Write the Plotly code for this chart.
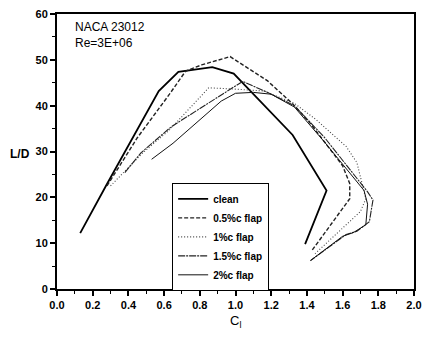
import plotly.graph_objects as go

names = ["clean", "0.5%c flap", "1%c flap", "1.5%c flap", "2%c flap"]

cl_clean = [0.13, 0.28, 0.57, 0.68, 0.87, 0.99, 1.32, 1.51, 1.39]
ld_clean = [12.2, 22.9, 43.2, 47.4, 48.4, 47.0, 33.6, 21.5, 9.8]

cl_05 = [0.28, 0.45, 0.63, 0.72, 0.81, 0.97, 1.18, 1.32, 1.42, 1.60, 1.64, 1.64, 1.43]
ld_05 = [22.5, 33.0, 42.5, 47.5, 48.9, 50.7, 45.4, 40.4, 36.1, 26.9, 23.0, 19.7, 8.5]

cl_1 = [0.30, 0.48, 0.63, 0.85, 1.00, 1.16, 1.33, 1.45, 1.62, 1.68, 1.73, 1.70, 1.44]
ld_1 = [22.5, 29.7, 34.7, 43.9, 43.6, 43.2, 40.5, 37.0, 31.1, 27.6, 19.7, 16.9, 7.5]

cl_15 = [0.38, 0.47, 0.64, 1.04, 1.18, 1.33, 1.50, 1.74, 1.77, 1.75, 1.68, 1.62, 1.42]
ld_15 = [25.4, 29.7, 35.4, 45.3, 42.9, 40.0, 33.0, 21.2, 19.4, 14.7, 12.6, 11.9, 6.2]

cl_2 = [0.53, 0.65, 0.92, 1.00, 1.10, 1.20, 1.33, 1.50, 1.72, 1.74, 1.73, 1.66, 1.60, 1.42]
ld_2 = [28.3, 31.8, 41.0, 42.7, 42.9, 42.5, 39.7, 32.0, 21.5, 18.5, 14.0, 12.3, 11.5, 6.2]

x_ticks = [0.0, 0.2, 0.4, 0.6, 0.8, 1.0, 1.2, 1.4, 1.6, 1.8, 2.0]
x_ticktext = ["0.0", "0.2", "0.4", "0.6", "0.8", "1.0", "1.2", "1.4", "1.6", "1.8", "2.0"]
y_ticks = [0, 10, 20, 30, 40, 50, 60]

series = [
    (cl_clean, ld_clean, dict(color="black", width=1.8, dash="solid")),
    (cl_05, ld_05, dict(color="#222", width=1.4, dash="4px,2px")),
    (cl_1, ld_1, dict(color="#444", width=1.1, dash="1px,2px")),
    (cl_15, ld_15, dict(color="#222", width=1.1, dash="7px,1px,2px,1px")),
    (cl_2, ld_2, dict(color="#111", width=1.0, dash="solid")),
]

fig = go.Figure()
for name, (xs, ys, ln) in zip(names, series):
    fig.add_trace(go.Scatter(x=xs, y=ys, mode="lines", name=name, line=ln))

FONT = "Liberation Sans, Arial, sans-serif"

fig.update_layout(
    width=430, height=337,
    margin=dict(l=57, r=12, t=8, b=48),
    paper_bgcolor="white", plot_bgcolor="white",
    showlegend=True,
    legend=dict(
        x=0.322, y=0.385, xanchor="left", yanchor="top",
        bordercolor="black", borderwidth=1.2, bgcolor="white",
        font=dict(family=FONT, size=10, color="black", weight="bold"),
        tracegroupgap=0, itemwidth=30,
    ),
    xaxis=dict(
        range=[0, 2.0], tickvals=x_ticks, ticktext=x_ticktext,
        ticks="outside", ticklen=5, tickwidth=1.5, tickcolor="black",
        minor=dict(ticks="outside", ticklen=3, dtick=0.1, tickcolor="black", tickwidth=1.2),
        showline=True, linecolor="black", linewidth=2, mirror=True,
        showgrid=False, zeroline=False,
        tickfont=dict(family=FONT, size=11, color="black", weight="bold"),
    ),
    yaxis=dict(
        range=[0, 60], tickvals=y_ticks,
        ticks="outside", ticklen=5, tickwidth=1.5, tickcolor="black",
        minor=dict(ticks="outside", ticklen=3, dtick=5, tickcolor="black", tickwidth=1.2),
        showline=True, linecolor="black", linewidth=2, mirror=True,
        showgrid=False, zeroline=False,
        tickfont=dict(family=FONT, size=11, color="black", weight="bold"),
    ),
    annotations=[
        dict(text="NACA 23012<br>Re=3E+06", xref="paper", yref="paper", x=0.045, y=0.985,
             xanchor="left", yanchor="top", showarrow=False, align="left",
             font=dict(family=FONT, size=12, color="black")),
        dict(text="L/D", xref="paper", yref="paper", x=-0.07, y=0.49,
             xanchor="right", yanchor="middle", showarrow=False,
             font=dict(family=FONT, size=12, color="black", weight="bold")),
        dict(text="C<sub>l</sub>", xref="paper", yref="paper", x=0.5, y=-0.08,
             xanchor="center", yanchor="top", showarrow=False,
             font=dict(family=FONT, size=13, color="black")),
    ],
)

fig.write_html("out.html")
